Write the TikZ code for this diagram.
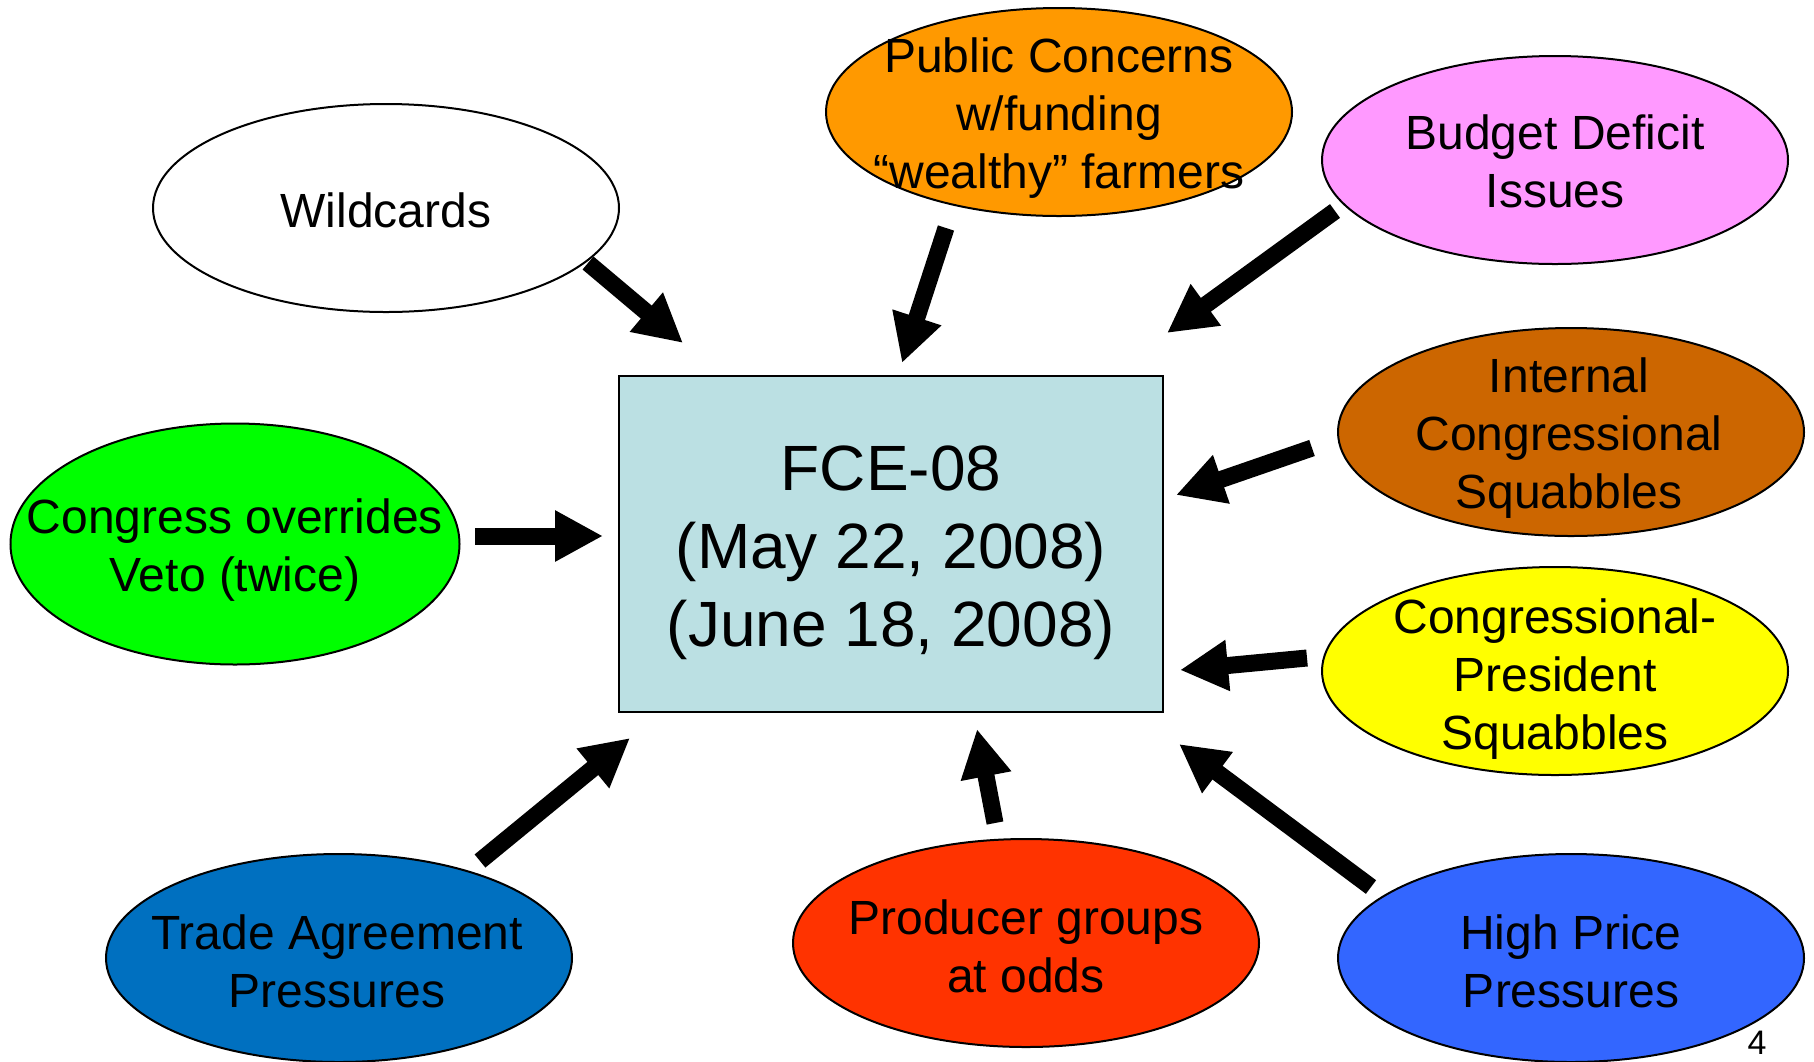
\documentclass[tikz,border=0pt]{standalone}
\usepackage{fontspec}
\setmainfont{Liberation Sans}
\usetikzlibrary{shapes.geometric,arrows.meta}
\definecolor{boxfill}{HTML}{BBE0E3}
\definecolor{cpub}{HTML}{FF9900}
\definecolor{cbud}{HTML}{FF99FF}
\definecolor{cint}{HTML}{CC6600}
\definecolor{ccon}{HTML}{00FF00}
\definecolor{cpre}{HTML}{FFFF00}
\definecolor{ctra}{HTML}{0070C0}
\definecolor{cpro}{HTML}{FF3300}
\definecolor{chig}{HTML}{3366FF}
\begin{document}
\begin{tikzpicture}[x=0.5pt,y=-0.5pt,
  oval/.style={ellipse, draw=black, line width=1pt, inner sep=0pt,
    minimum width=233pt, minimum height=104pt},
  otext/.style={align=center, inner sep=0pt, font=\fontsize{24}{29}\selectfont},
  bigarrow/.style={line width=8.5pt, -{Triangle[length=24pt,width=24pt]}},
]
\path[use as bounding box] (0,0) rectangle (1814,1061);
\clip (0,0) rectangle (1814,1061);

\node[draw=black, line width=1pt, fill=boxfill, minimum width=272pt, minimum height=168pt,
  inner sep=0pt] (fce) at (891,544) {};
\node[align=center, inner sep=0pt, font=\fontsize{32}{39}\selectfont] (fcet) at (891,553)
  {FCE-08\\(May 22, 2008)\\(June 18, 2008)};

\node[oval, fill=white] (wild) at (386,208) {};
\node[otext] (wildt) at (386,210) {Wildcards};
\node[oval, fill=cpub] (pub) at (1059,112) {};
\node[otext] (pubt) at (1059,118) {Public Concerns\\w/funding\\“wealthy” farmers};
\node[oval, fill=cbud] (bud) at (1555,160) {};
\node[otext] (budt) at (1555,161) {Budget Deficit\\Issues};
\node[oval, fill=cint] (int) at (1571,432) {};
\node[otext] (intt) at (1569,438) {Internal\\Congressional\\Squabbles};
\node[oval, fill=ccon, minimum width=224.5pt, minimum height=120.5pt] (con) at (235,544) {};
\node[otext] (cont) at (235,550) {Congress overrides\\Veto (twice)};
\node[oval, fill=cpre] (pre) at (1555,671) {};
\node[otext] (pret) at (1555,679) {Congressional-\\President\\Squabbles};
\node[oval, fill=ctra] (tra) at (339,958) {};
\node[otext] (trat) at (337,961) {Trade Agreement\\Pressures};
\node[oval, fill=cpro] (pro) at (1026,943) {};
\node[otext] (prot) at (1026,946) {Producer groups\\at odds};
\node[oval, fill=chig] (hig) at (1571,958) {};
\node[otext] (higt) at (1571,961) {High Price\\Pressures};

\node[font=\fontsize{17}{20}\selectfont, inner sep=0pt] (pg) at (1757,1043) {4};

\coordinate (t1) at (588,263);  \coordinate (h1) at (683,343);
\coordinate (t2) at (946,228);  \coordinate (h2) at (902,363);
\coordinate (t3) at (1335,211); \coordinate (h3) at (1167,333);
\coordinate (t4) at (1312,448); \coordinate (h4) at (1176,495);
\coordinate (t5) at (475,536);  \coordinate (h5) at (603,536);
\coordinate (t6) at (1307,658); \coordinate (h6) at (1180,670);
\coordinate (t7) at (480,861);  \coordinate (h7) at (630,738);
\coordinate (t8) at (995,823);  \coordinate (h8) at (977,729);
\coordinate (t9) at (1371,887); \coordinate (h9) at (1179,744);

\foreach \i in {1,...,9} { \draw[bigarrow] (t\i) -- (h\i); }
\end{tikzpicture}
\end{document}
